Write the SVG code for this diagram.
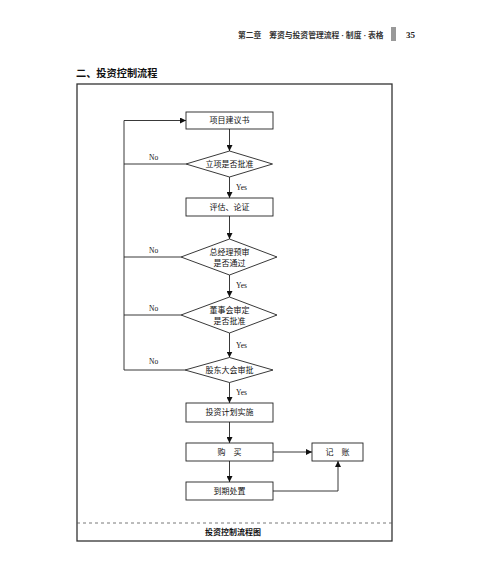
<svg xmlns="http://www.w3.org/2000/svg" width="480" height="580" viewBox="0 0 480 580">
<style>
.n{fill:#fff;stroke:#222;stroke-width:0.9}
.t{font-family:"Liberation Serif","Noto Sans CJK SC",serif;font-size:8px;fill:#111;text-anchor:middle;dominant-baseline:central}
.l{font-family:"Liberation Serif","Noto Sans CJK SC",serif;font-size:7.5px;fill:#111;dominant-baseline:central}
.c{fill:none;stroke:#222;stroke-width:0.9}
</style>
<defs>
<marker id="a" viewBox="0 0 10 10" refX="10" refY="5" markerWidth="6" markerHeight="6" orient="auto" markerUnits="userSpaceOnUse">
<path d="M0,0 L10,5 L0,10 z" fill="#111"/>
</marker>
</defs>
<rect width="480" height="580" fill="#fff"/>
<g id="header">
<text x="238" y="35" style="font-family:'Liberation Serif','Noto Sans CJK SC',serif;font-size:7.8px;font-weight:bold;fill:#333;dominant-baseline:central">第二章　筹资与投资管理流程 · 制度 · 表格</text>
<rect x="391" y="27" width="5" height="14" fill="#999"/>
<text x="406" y="35" style="font-family:'Liberation Serif',serif;font-size:9px;font-weight:bold;fill:#222;dominant-baseline:central">35</text>
</g>
<text x="76" y="73" style="font-family:'Liberation Serif','Noto Sans CJK SC',serif;font-size:10.2px;font-weight:bold;fill:#111;dominant-baseline:central">二、投资控制流程</text>
<rect x="77" y="84" width="315" height="457" fill="none" stroke="#333" stroke-width="1.3"/>
<line x1="77" y1="523" x2="392" y2="523" stroke="#555" stroke-width="0.8" stroke-dasharray="3,3"/>
<text x="233" y="532" class="t" style="font-weight:bold">投资控制流程图</text>
<g id="connectors">
<line class="c" x1="229.5" y1="129" x2="229.5" y2="151" marker-end="url(#a)"/>
<line class="c" x1="229.5" y1="177" x2="229.5" y2="198" marker-end="url(#a)"/>
<line class="c" x1="229.5" y1="216" x2="229.5" y2="239" marker-end="url(#a)"/>
<line class="c" x1="229.5" y1="275" x2="229.5" y2="297" marker-end="url(#a)"/>
<line class="c" x1="229.5" y1="333" x2="229.5" y2="357.5" marker-end="url(#a)"/>
<line class="c" x1="229.5" y1="382.5" x2="229.5" y2="403" marker-end="url(#a)"/>
<line class="c" x1="229.5" y1="422" x2="229.5" y2="443" marker-end="url(#a)"/>
<line class="c" x1="229.5" y1="461" x2="229.5" y2="482" marker-end="url(#a)"/>
<line class="c" x1="273" y1="452" x2="312" y2="452" marker-end="url(#a)"/>
<polyline class="c" points="273,491 338,491 338,461" marker-end="url(#a)"/>
<line class="c" x1="186" y1="164" x2="124" y2="164"/>
<line class="c" x1="181" y1="257" x2="124" y2="257"/>
<line class="c" x1="181" y1="315" x2="124" y2="315"/>
<line class="c" x1="185" y1="370" x2="124" y2="370"/>
<polyline class="c" points="124,370 124,120.5 186,120.5" marker-end="url(#a)"/>
<text class="l" x="149" y="157">No</text>
<text class="l" x="149" y="250">No</text>
<text class="l" x="149" y="308">No</text>
<text class="l" x="149" y="361">No</text>
<text class="l" x="236" y="187">Yes</text>
<text class="l" x="236" y="285">Yes</text>
<text class="l" x="236" y="345">Yes</text>
<text class="l" x="236" y="392">Yes</text>
</g>
<g id="n1"><rect class="n" x="186" y="112" width="87" height="17"/><text class="t" x="229.5" y="120.5">项目建议书</text></g>
<g id="d1"><polygon class="n" points="229.5,151 272.5,164 229.5,177 186,164"/><text class="t" x="229.5" y="164">立项是否批准</text></g>
<g id="n2"><rect class="n" x="186" y="198" width="87" height="18"/><text class="t" x="229.5" y="207">评估、论证</text></g>
<g id="d2"><polygon class="n" points="229.5,239 277,257 229.5,275 181,257"/><text class="t" x="229.5" y="252">总经理预审</text><text class="t" x="229.5" y="263">是否通过</text></g>
<g id="d3"><polygon class="n" points="229.5,297 277,315 229.5,333 181,315"/><text class="t" x="229.5" y="310">董事会审定</text><text class="t" x="229.5" y="321">是否批准</text></g>
<g id="d4"><polygon class="n" points="229.5,357.5 273,370 229.5,382.5 185,370"/><text class="t" x="229.5" y="370">股东大会审批</text></g>
<g id="n3"><rect class="n" x="186" y="403" width="87" height="19"/><text class="t" x="229.5" y="412.5">投资计划实施</text></g>
<g id="n4"><rect class="n" x="186" y="443" width="87" height="18"/><text class="t" x="229.5" y="452">购　买</text></g>
<g id="n5"><rect class="n" x="312" y="443" width="51" height="18"/><text class="t" x="337.5" y="452">记　账</text></g>
<g id="n6"><rect class="n" x="186" y="482" width="87" height="18"/><text class="t" x="229.5" y="491">到期处置</text></g>
</svg>
